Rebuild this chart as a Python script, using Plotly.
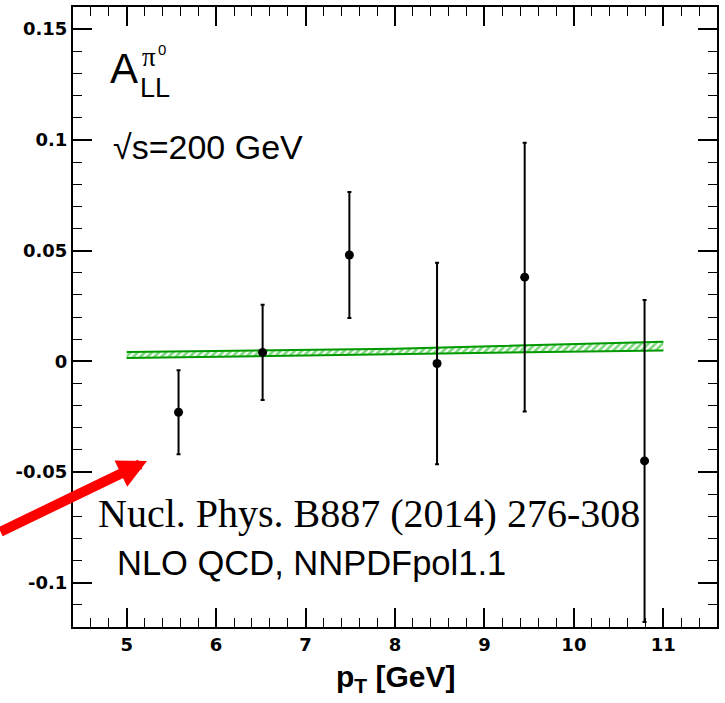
import plotly.graph_objects as go

# ---- data ----
pt = [5.58, 6.52, 7.49, 8.47, 9.45, 10.79]
all_vals = [-0.023, 0.004, 0.048, -0.001, 0.038, -0.045]
all_err = [0.019, 0.0215, 0.0285, 0.0455, 0.0607, 0.0727]

band_x = [5.0, 8.0, 11.0]
band_lo = [0.0015, 0.0033, 0.0049]
band_hi = [0.0042, 0.0057, 0.0088]

x_ticks = [5, 6, 7, 8, 9, 10, 11]
x_ticktext = ["5", "6", "7", "8", "9", "10", "11"]
y_ticks = [-0.1, -0.05, 0, 0.05, 0.1, 0.15]
y_ticktext = ["-0.1", "-0.05", "0", "0.05", "0.1", "0.15"]

X_RANGE = [4.4, 11.6]
Y_RANGE = [-0.12, 0.16]

W, H = 725, 703
ML, MR, MT, MB = 73, 8, 7, 76
PW, PH = W - ML - MR, H - MT - MB


def px2paper(px, py):
    return (px - ML) / PW, (H - MB - py) / PH


def px2data(px, py):
    return (X_RANGE[0] + (px - ML) / PW * (X_RANGE[1] - X_RANGE[0]),
            Y_RANGE[0] + (H - MB - py) / PH * (Y_RANGE[1] - Y_RANGE[0]))


fig = go.Figure()

# theory band (hatched)
fig.add_trace(go.Scatter(
    x=band_x + band_x[::-1], y=band_hi + band_lo[::-1],
    mode="lines", fill="toself", fillcolor="rgba(0,0,0,0)",
    fillpattern=dict(shape="/", fgcolor="#00b000", bgcolor="white", size=5, solidity=0.55),
    line=dict(color="rgba(0,0,0,0)", width=0), hoverinfo="skip", showlegend=False))
fig.add_trace(go.Scatter(x=band_x, y=band_hi, mode="lines",
                         line=dict(color="#009a00", width=2), showlegend=False))
fig.add_trace(go.Scatter(x=band_x, y=band_lo, mode="lines",
                         line=dict(color="#009a00", width=2), showlegend=False))

# data points
fig.add_trace(go.Scatter(
    x=pt, y=all_vals, mode="markers",
    marker=dict(color="black", size=9, symbol="circle"),
    error_y=dict(type="data", array=all_err, symmetric=True,
                 color="black", thickness=2, width=2),
    showlegend=False))

ann = []


def text(px, py, s, size, family="Liberation Sans", weight="normal", xanchor="left"):
    xp, yp = px2paper(px, py)
    ann.append(dict(x=xp, y=yp, xref="paper", yref="paper", text=s, showarrow=False,
                    xanchor=xanchor, yanchor="middle", borderpad=0,
                    font=dict(family=family, size=size, color="black", weight=weight)))


text(109, 69, "A", 42)
text(139, 88, "LL", 27)
text(141, 57, "π", 27, family="Liberation Serif")
text(157, 50, "0", 15)
text(112, 147, "√s=200 GeV", 34)
text(97, 513, "Nucl. Phys. B887 (2014) 276-308", 40, family="Liberation Serif")
text(116, 563, "NLO QCD, NNPDFpol1.1", 34.5)
text(396, 678, "p<sub>T</sub> [GeV]", 30, weight="bold", xanchor="center")

# red arrow (tail at the left page edge, head pointing at the first point)
tx, ty = px2data(147, 461)
ann.append(dict(x=tx, y=ty, xref="x", yref="y", ax=-147, ay=71, axref="pixel", ayref="pixel",
                showarrow=True, arrowhead=2, arrowsize=0.58, arrowwidth=10,
                arrowcolor="#ff0000", text="", borderpad=0, font=dict(size=1)))

axis_common = dict(
    ticks="inside", ticklen=19, tickwidth=1.5, tickcolor="black",
    showline=True, linecolor="black", linewidth=2, mirror="ticks",
    showgrid=False, zeroline=False, automargin=False,
    tickfont=dict(family="DejaVu Sans", size=18, weight="bold", color="black"),
)

fig.update_layout(
    width=W, height=H, margin=dict(l=ML, r=MR, t=MT, b=MB, autoexpand=False),
    paper_bgcolor="white", plot_bgcolor="white",
    annotations=ann,
    xaxis=dict(range=X_RANGE, tickvals=x_ticks, ticktext=x_ticktext,
               minor=dict(ticks="inside", ticklen=9, dtick=0.2, tick0=5,
                          tickwidth=1.2, tickcolor="black", showgrid=False),
               **axis_common),
    yaxis=dict(range=Y_RANGE, tickvals=y_ticks, ticktext=y_ticktext,
               minor=dict(ticks="inside", ticklen=9, dtick=0.01, tick0=0,
                          tickwidth=1.2, tickcolor="black", showgrid=False),
               **axis_common),
)

fig.write_html("out.html", config={"displayModeBar": False},
               post_script="document.body.style.margin='0';document.body.style.overflow='hidden';")
